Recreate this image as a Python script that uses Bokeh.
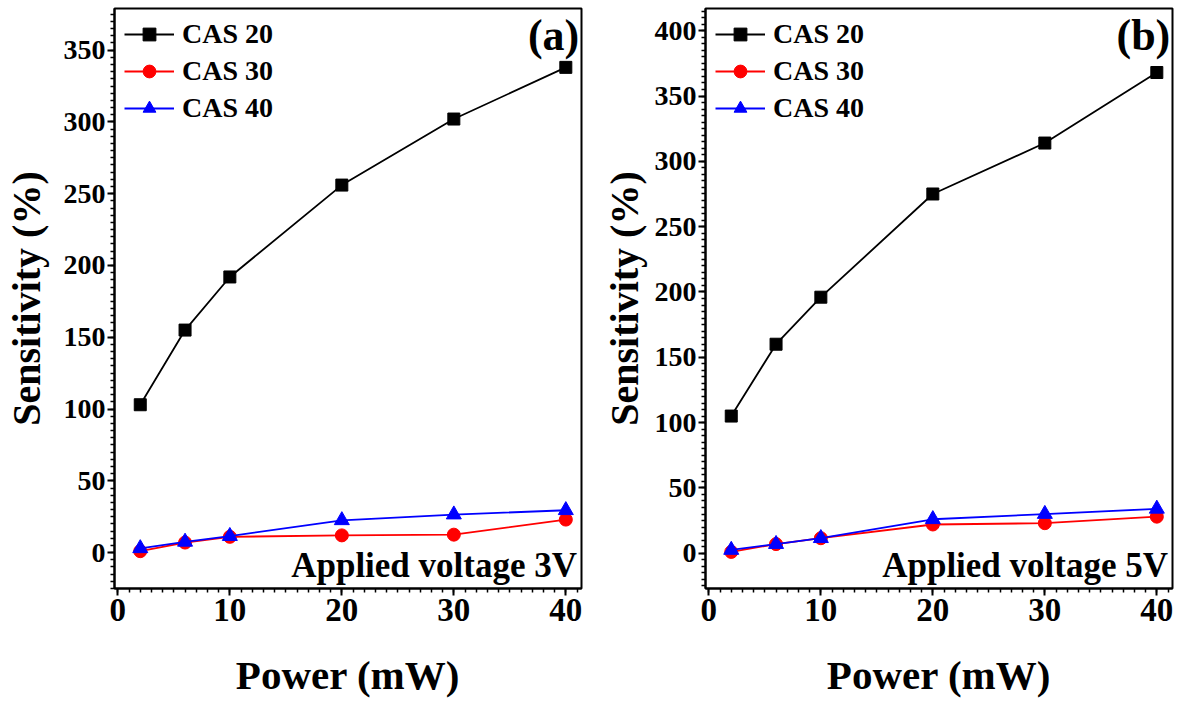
from bokeh.plotting import figure
from bokeh.layouts import row
from bokeh.models import SingleIntervalTicker, Range1d, Label
from bokeh.embed import file_html
from bokeh.resources import INLINE

power = [2, 6, 10, 20, 30, 40]
a_cas20 = [103, 155, 192, 256, 302, 338]
a_cas30 = [1, 7, 11, 12, 12.5, 23]
a_cas40 = [3, 7.5, 11.5, 22.5, 26.5, 29.5]
b_cas20 = [105, 160, 196, 275, 314, 368]
b_cas30 = [1, 7, 11.5, 22, 23, 28]
b_cas40 = [2.5, 7, 11.5, 26, 30, 34]
series_names = ["CAS 20", "CAS 30", "CAS 40"]
colors = ["#000000", "#ff0000", "#0000ff"]
markers = ["square", "circle", "triangle"]
marker_sizes = [12, 13, 15]
FONT = "Liberation Serif"
H = 700
BT, BB = 8, 112
XR = (-0.3, 41.4)


def make_panel(tag, voltage, ys, yr, width, bl, br, ylab_standoff):
    p = figure(width=width, height=H, output_backend="svg", toolbar_location=None,
               x_range=Range1d(*XR), y_range=Range1d(*yr),
               min_border_left=bl, min_border_right=br, min_border_top=BT, min_border_bottom=BB)
    fh = H - BT - BB
    sy = fh / (yr[1] - yr[0])
    p.xgrid.visible = False
    p.ygrid.visible = False
    p.outline_line_color = "black"
    p.outline_line_width = 2
    for name, y, c, m, s in zip(series_names, ys, colors, markers, marker_sizes):
        p.line(power, y, line_color=c, line_width=1.8, legend_label=name)
        p.scatter(power, y, marker=m, size=s, fill_color=c, line_color=c, legend_label=name)
    p.xaxis.ticker = SingleIntervalTicker(interval=10, num_minor_ticks=10)
    p.yaxis.ticker = SingleIntervalTicker(interval=50, num_minor_ticks=10)
    for ax in (p.xaxis, p.yaxis):
        ax.axis_line_width = 2
        ax.major_tick_line_width = 2
        ax.minor_tick_line_width = 1.5
        ax.major_tick_out = 7
        ax.major_tick_in = 0
        ax.minor_tick_out = 4
        ax.minor_tick_in = 0
        ax.major_label_text_font = FONT
        ax.major_label_text_font_style = "bold"
        ax.major_label_text_color = "black"
        ax.axis_label_text_font = FONT
        ax.axis_label_text_font_style = "bold"
        ax.axis_label_text_color = "black"
    p.xaxis.axis_label = "Power (mW)"
    p.yaxis.axis_label = "Sensitivity (%)"
    p.xaxis.axis_label_text_font_size = "41px"
    p.yaxis.axis_label_text_font_size = "40px"
    p.xaxis.major_label_text_font_size = "33px"
    p.yaxis.major_label_text_font_size = "28px"
    p.xaxis.major_label_standoff = 3
    p.yaxis.major_label_standoff = 2
    p.xaxis.axis_label_standoff = 28
    p.yaxis.axis_label_standoff = ylab_standoff

    lg = p.legend[0]
    lg.location = "top_left"
    lg.background_fill_alpha = 0
    lg.border_line_alpha = 0
    lg.label_text_font = FONT
    lg.label_text_font_style = "bold"
    lg.label_text_font_size = "28px"
    lg.label_text_color = "black"
    lg.glyph_width = 50
    lg.glyph_height = 32
    lg.label_height = 32
    lg.spacing = 5
    lg.margin = 0
    lg.padding = 10
    lg.label_standoff = 8

    p.add_layout(Label(x=41.2, y=yr[1] - 2.5 / sy, text=tag, text_align="right", text_baseline="top",
                       text_font=FONT, text_font_style="bold", text_font_size="44px",
                       text_color="black"))
    p.add_layout(Label(x=41.0, y=yr[0] + 4 / sy, text="Applied voltage " + voltage, text_align="right",
                       text_baseline="bottom", text_font=FONT, text_font_style="bold",
                       text_font_size="35px", text_color="black"))
    return p


pa = make_panel("(a)", "3V", [a_cas20, a_cas30, a_cas40], (-25, 379), 595, 114, 14, 12)
pb = make_panel("(b)", "5V", [b_cas20, b_cas30, b_cas40], (-27, 417), 583, 110, 6, 5)

layout = row(pa, pb)
open("out.html", "w").write(file_html(layout, INLINE))
